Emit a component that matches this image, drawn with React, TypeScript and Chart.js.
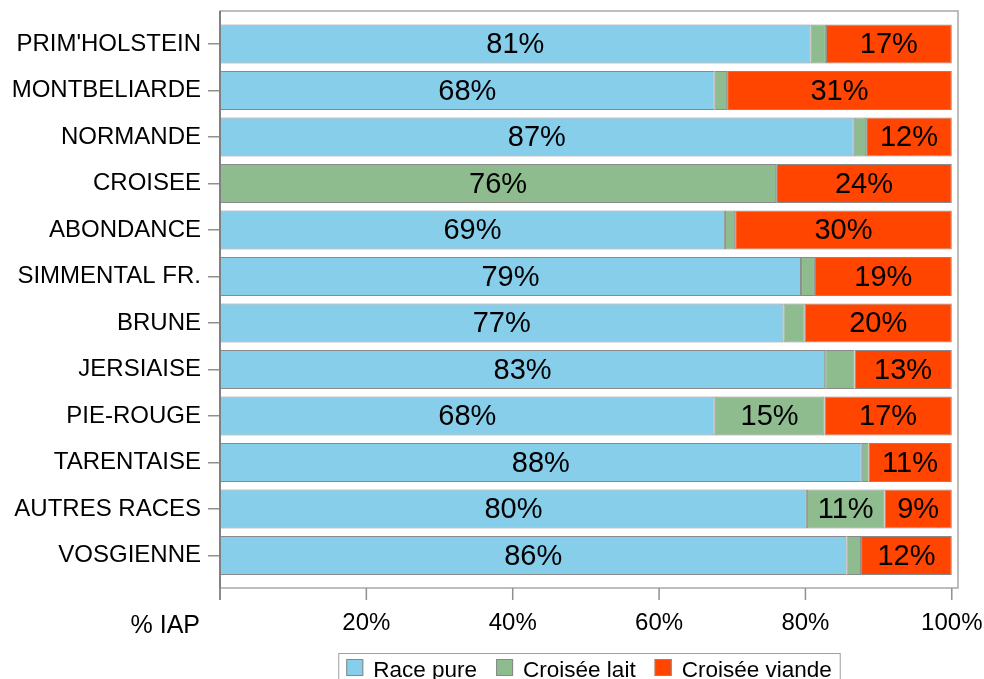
import React, { useEffect, useRef } from "react";
import { Chart, registerables } from "chart.js";

Chart.register(...registerables);

const categories = [
  "PRIM'HOLSTEIN",
  "MONTBELIARDE",
  "NORMANDE",
  "CROISEE",
  "ABONDANCE",
  "SIMMENTAL FR.",
  "BRUNE",
  "JERSIAISE",
  "PIE-ROUGE",
  "TARENTAISE",
  "AUTRES RACES",
  "VOSGIENNE",
];

const racePure = [80.7, 67.6, 86.6, 0, 69.0, 79.4, 77.0, 82.7, 67.6, 87.7, 80.2, 85.6];
const croiseeLait = [2.1, 1.7, 1.7, 76.0, 1.4, 1.9, 2.9, 4.0, 15.0, 0.9, 10.6, 2.0];
const croiseeViande = [17.2, 30.7, 11.7, 24.0, 29.6, 18.7, 20.1, 13.3, 17.4, 11.4, 9.2, 12.4];

const seriesNames = ["Race pure", "Croisée lait", "Croisée viande"];
const seriesColors = ["#87CEEB", "#8FBC8F", "#FF4500"];
const xTicks = [0, 20, 40, 60, 80, 100];
const axisTitle = "% IAP";

const FONT = "'Liberation Sans', Arial, sans-serif";

const overlayPlugin = {
  id: "overlay",
  afterDatasetsDraw(chart: any) {
    const ctx = chart.ctx;
    ctx.save();
    ctx.font = `29px ${FONT}`;
    ctx.fillStyle = "#000";
    ctx.textAlign = "center";
    ctx.textBaseline = "middle";
    chart.data.datasets.forEach((ds: any, di: number) => {
      const meta = chart.getDatasetMeta(di);
      meta.data.forEach((el: any, i: number) => {
        const v = ds.data[i];
        if (v >= 8) {
          const cx = (el.x + el.base) / 2;
          ctx.fillText(Math.round(v) + "%", cx, el.y + 1);
        }
      });
    });
    ctx.restore();
  },
  afterDraw(chart: any) {
    const ctx = chart.ctx;
    const ca = chart.chartArea;
    const xs = chart.scales.x;
    const frameTop = ca.top - 9.75;
    const frameBottom = ca.bottom + 9.25;
    ctx.save();
    ctx.strokeStyle = "#a8a8a8";
    ctx.lineWidth = 1.5;
    ctx.strokeRect(ca.left, frameTop, ca.right - ca.left, frameBottom - frameTop);
    ctx.strokeStyle = "#808080";
    ctx.lineWidth = 2;
    ctx.beginPath();
    ctx.moveTo(ca.left, frameTop);
    ctx.lineTo(ca.left, frameBottom + 12);
    ctx.stroke();
    ctx.strokeStyle = "#909090";
    ctx.lineWidth = 1.5;
    xTicks.forEach((t) => {
      const px = xs.getPixelForValue(t);
      ctx.beginPath();
      ctx.moveTo(px, frameBottom);
      ctx.lineTo(px, frameBottom + 12);
      ctx.stroke();
    });
    ctx.fillStyle = "#000";
    ctx.font = `25px ${FONT}`;
    ctx.textAlign = "right";
    ctx.textBaseline = "alphabetic";
    ctx.fillText(axisTitle, 200, 633);
    ctx.font = `22.5px ${FONT}`;
    const sq = 17;
    const gapText = 10;
    const gapItem = 19;
    const padX = 8;
    const widths = seriesNames.map((n) => ctx.measureText(n).width);
    let total = 0;
    widths.forEach((w, i) => {
      total += sq + gapText + w + (i < widths.length - 1 ? gapItem : 0);
    });
    const center = (ca.left + ca.right) / 2;
    const boxLeft = center - total / 2 - padX;
    const boxRight = center + total / 2 + padX;
    ctx.strokeStyle = "#a0a0a0";
    ctx.lineWidth = 1;
    ctx.strokeRect(boxLeft + 0.5, 653.5, boxRight - boxLeft, 40);
    let x = boxLeft + padX;
    ctx.textAlign = "left";
    seriesNames.forEach((n, i) => {
      ctx.fillStyle = seriesColors[i];
      ctx.fillRect(x, 659, sq, sq);
      ctx.strokeStyle = "#888";
      ctx.strokeRect(x + 0.5, 659.5, sq - 1, sq - 1);
      ctx.fillStyle = "#000";
      ctx.fillText(n, x + sq + gapText, 677);
      x += sq + gapText + widths[i] + gapItem;
    });
    ctx.restore();
  },
};

export default function App() {
  const ref = useRef<HTMLCanvasElement | null>(null);
  useEffect(() => {
    if (!ref.current) return;
    const values = [racePure, croiseeLait, croiseeViande];
    const chart = new Chart(ref.current, {
      type: "bar",
      data: {
        labels: categories,
        datasets: values.map((d, i) => ({
          label: seriesNames[i],
          data: d,
          backgroundColor: seriesColors[i],
          borderColor: "#8a8a8a",
          borderWidth: 1,
          borderSkipped: false,
          barPercentage: 0.839,
          categoryPercentage: 1,
        })),
      },
      options: {
        indexAxis: "y",
        animation: false,
        responsive: true,
        maintainAspectRatio: false,
        layout: { padding: { top: 20.75, right: 26, left: 0, bottom: 0 } },
        plugins: { legend: { display: false }, tooltip: { enabled: false } },
        scales: {
          x: {
            stacked: true,
            min: 0,
            max: 100.85,
            afterFit: (s: any) => {
              s.height = 100.25;
              s.paddingLeft = 0;
              s.paddingRight = 0;
            },
            afterBuildTicks: (s: any) => {
              s.ticks = xTicks.map((v) => ({ value: v }));
            },
            grid: { display: false, drawTicks: false },
            border: { display: false },
            ticks: {
              padding: 30,
              color: "#000",
              font: { family: FONT, size: 24 },
              maxRotation: 0,
              callback: (v: any) => (v === 0 ? "" : v + "%"),
            },
          },
          y: {
            stacked: true,
            afterFit: (s: any) => {
              s.width = 220;
              s.paddingTop = 0;
              s.paddingBottom = 0;
            },
            grid: {
              offset: false,
              drawOnChartArea: false,
              drawTicks: true,
              tickLength: 12,
              color: "#909090",
              lineWidth: 1.5,
            },
            border: { display: false },
            ticks: {
              padding: 7,
              color: "#000",
              font: { family: FONT, size: 24 },
            },
          },
        },
      },
      plugins: [overlayPlugin],
    });
    return () => chart.destroy();
  }, []);
  return (
    <div style={{ position: "fixed", left: 0, top: 0, width: 984, height: 679, background: "#fff" }}>
      <canvas ref={ref} />
    </div>
  );
}
